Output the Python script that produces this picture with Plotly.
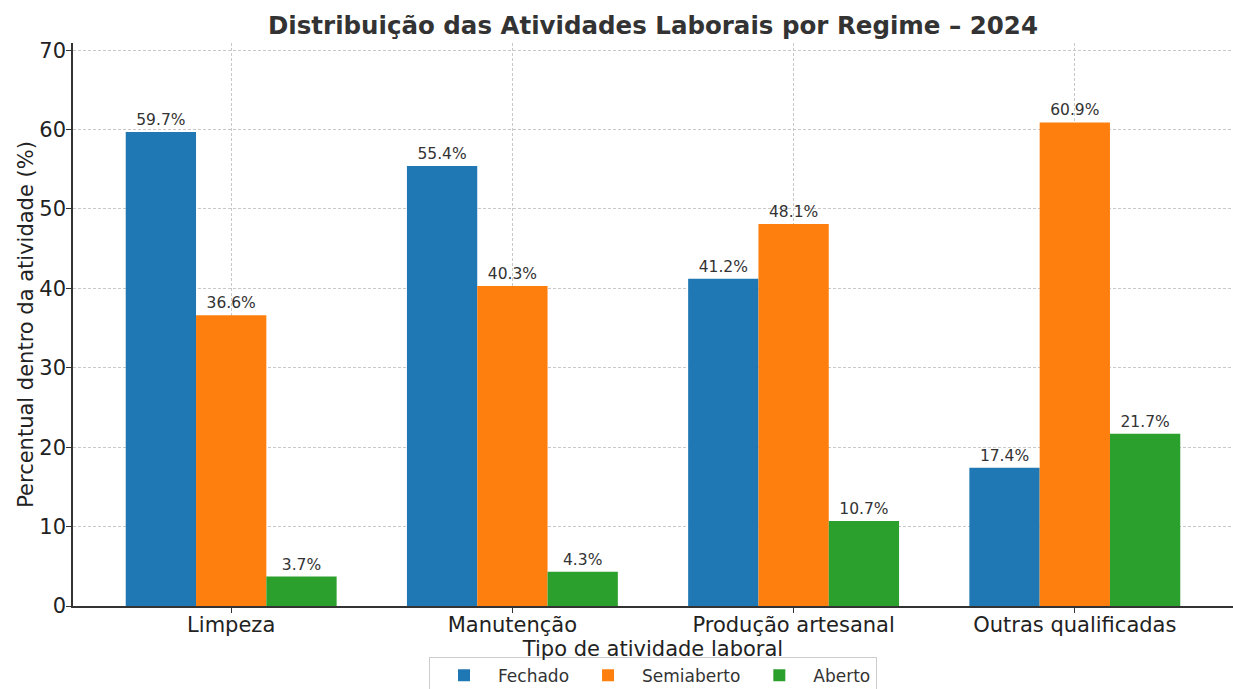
import plotly.graph_objects as go

categories = ["Limpeza", "Manutenção", "Produção artesanal", "Outras qualificadas"]
fechado = [59.7, 55.4, 41.2, 17.4]
semiaberto = [36.6, 40.3, 48.1, 60.9]
aberto = [3.7, 4.3, 10.7, 21.7]
series_names = ["Fechado", "Semiaberto", "Aberto"]
colors = ["#1f77b4", "#ff7f0e", "#2ca02c"]

FONT = "DejaVu Sans"
fig = go.Figure()
for name, vals, col in zip(series_names, [fechado, semiaberto, aberto], colors):
    fig.add_trace(go.Bar(
        x=categories, y=vals, name=name, marker_color=col,
        marker_line_width=0,
        text=[f"{v:.1f}%" for v in vals], textposition="outside",
        textfont=dict(family=FONT, size=15.5, color="#333333"),
        cliponaxis=False,
    ))

fig.update_layout(
    width=1233, height=689,
    margin=dict(l=73, r=0, t=43, b=83, autoexpand=False),
    paper_bgcolor="white", plot_bgcolor="white",
    barmode="group", bargap=0.25, bargroupgap=0,
    font=dict(family=FONT, color="#333333"),
    title=dict(text="<b>Distribuição das Atividades Laborais por Regime – 2024</b>",
               x=0.5296, xanchor="center", y=0.9637, yanchor="middle",
               font=dict(family=FONT, size=24.5, color="#333333")),
    legend=dict(orientation="h", x=0.5, xanchor="center", y=-0.09, yanchor="top",
                bordercolor="#cccccc", borderwidth=1, bgcolor="white",
                font=dict(family=FONT, size=17, color="#333333"),
                itemwidth=58, traceorder="normal"),
)
fig.update_xaxes(
    range=[-0.5625, 3.5625], automargin=False,
    showline=True, linecolor="#333333", linewidth=1.5,
    ticks="outside", ticklen=5, tickcolor="#333333",
    showgrid=True, gridcolor="#c8c8c8", griddash="3px,2px", gridwidth=1,
    tickfont=dict(family=FONT, size=21, color="#222222"),
    ticklabelstandoff=-6,
    title=dict(text="Tipo de atividade laboral", standoff=0,
               font=dict(family=FONT, size=21, color="#222222")),
    layer="above traces",
)
fig.update_yaxes(
    range=[0, 70.9], tickvals=[0, 10, 20, 30, 40, 50, 60, 70], automargin=False,
    showline=True, linecolor="#333333", linewidth=1.5,
    ticks="outside", ticklen=5, tickcolor="#333333",
    showgrid=True, gridcolor="#c8c8c8", griddash="3px,2px", gridwidth=1,
    zeroline=False,
    tickfont=dict(family=FONT, size=21, color="#222222"),
    ticklabelstandoff=-4,
    title=dict(text="Percentual dentro da atividade (%)", standoff=0,
               font=dict(family=FONT, size=21, color="#222222")),
    layer="above traces",
)

fig.write_html("out.html", config={"displayModeBar": False},
               post_script="document.body.style.margin='0';document.body.style.overflow='hidden';")
